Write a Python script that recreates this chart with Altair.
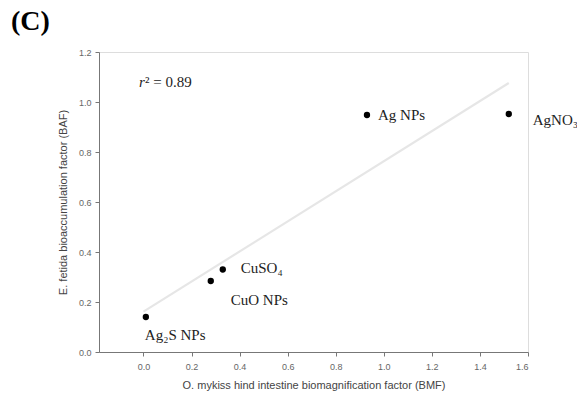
import altair as alt
import pandas as pd

names = ["Ag\u2082S NPs", "CuO NPs", "CuSO\u2084", "Ag NPs", "AgNO\u2083"]
bmf = [0.01, 0.28, 0.33, 0.93, 1.52]
baf = [0.14, 0.284, 0.33, 0.948, 0.952]
label_dx = [-1, 20, 18, 11, 24]
label_dy = [18, 19, -2, 0, 6]

x_ticks = [0.0, 0.2, 0.4, 0.6, 0.8, 1.0, 1.2, 1.4, 1.6]
y_ticks = [0.0, 0.2, 0.4, 0.6, 0.8, 1.0, 1.2]

df = pd.DataFrame({"name": names, "bmf": bmf, "baf": baf})

xs = alt.Scale(domain=[-0.185, 1.6], nice=False, zero=False)
ys = alt.Scale(domain=[0, 1.2], nice=False)

xax = alt.Axis(values=x_ticks, format=".1f", grid=False, title="O. mykiss hind intestine biomagnification factor (BMF)",
               labelFont="Liberation Sans", labelFontSize=9, labelColor="#666", titleFont="Liberation Sans",
               titleFontSize=11, titleFontWeight="normal", titleColor="#444", domainColor="#777", tickColor="#777",
               tickSize=4, labelPadding=6, titlePadding=8)
yax = alt.Axis(values=y_ticks, format=".1f", grid=False, title="E. fetida bioaccumulation factor (BAF)",
               labelFont="Liberation Sans", labelFontSize=9, labelColor="#666", titleFont="Liberation Sans",
               titleFontSize=11, titleFontWeight="normal", titleColor="#444", domainColor="#777", tickColor="#777",
               tickSize=4, labelPadding=4, titlePadding=10)

base = alt.Chart(df)

reg = base.transform_regression("bmf", "baf", extent=[0.0, 1.52]).mark_line(
    color="#e6e6e6", strokeWidth=2.2
).encode(x=alt.X("bmf:Q", scale=xs, axis=xax), y=alt.Y("baf:Q", scale=ys, axis=yax))

pts = base.mark_circle(size=40, color="black", opacity=1).encode(
    x=alt.X("bmf:Q", scale=xs), y=alt.Y("baf:Q", scale=ys)
)

layers = [reg, pts]
for i in range(len(names)):
    t = alt.Chart(df.iloc[[i]]).mark_text(
        font="Liberation Serif", fontSize=15, color="#222", align="left", baseline="middle",
        dx=label_dx[i], dy=label_dy[i]
    ).encode(x=alt.X("bmf:Q", scale=xs), y=alt.Y("baf:Q", scale=ys), text="name:N")
    layers.append(t)

r_txt = alt.Chart(pd.DataFrame({"t": ["r"]})).mark_text(
    font="Liberation Serif", fontSize=15, fontStyle="italic", color="#222", align="left", baseline="middle"
).encode(x=alt.value(40), y=alt.value(30), text="t:N")
r2_txt = alt.Chart(pd.DataFrame({"t": ["\u00b2 = 0.89"]})).mark_text(
    font="Liberation Serif", fontSize=15, color="#222", align="left", baseline="middle"
).encode(x=alt.value(46), y=alt.value(30), text="t:N")

panel = alt.Chart(pd.DataFrame({"t": ["(C)"]})).mark_text(
    font="Liberation Serif", fontSize=28, fontWeight="bold", color="#000", align="left", baseline="middle"
).encode(x=alt.value(-88), y=alt.value(-30), text="t:N")

layers += [r_txt, r2_txt, panel]

chart = alt.layer(*layers).properties(
    width=429, height=300,
    autosize=alt.AutoSizeParams(type="none"),
    padding={"left": 99, "top": 52, "right": 49, "bottom": 55},
).configure_view(stroke=None).configure(background="white")

chart.save("out.html", embed_options={"renderer": "svg", "actions": False})
